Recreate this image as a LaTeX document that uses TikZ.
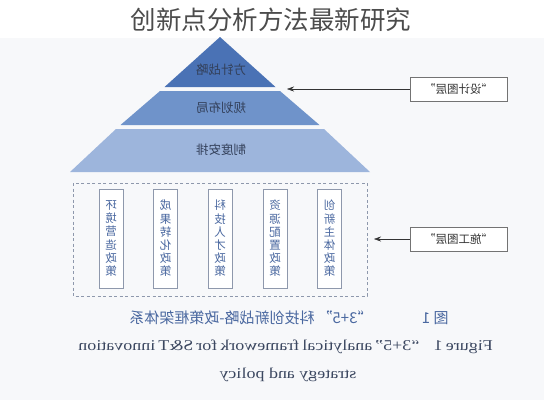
\documentclass[tikz,border=0pt]{standalone}
\usepackage{fontspec}
\usepackage{graphicx}
\setmainfont{Liberation Serif}
\newfontfamily\cjk{Noto Sans CJK SC}
\usetikzlibrary{arrows.meta,positioning}
\definecolor{Paper}{HTML}{F7F8FA}
\definecolor{TierA}{HTML}{4A72B5}
\definecolor{TierB}{HTML}{6F93CA}
\definecolor{TierC}{HTML}{9DB5DC}
\definecolor{TierInk}{HTML}{33405A}
\definecolor{Ink}{HTML}{4A68A0}
\definecolor{Frame}{HTML}{8E98AC}
\definecolor{Cap}{HTML}{3B4760}

\begin{document}
\begin{tikzpicture}[x=1pt,y=-1pt,
        mir/.style={xscale=-1},
        tier/.style={mir,font=\cjk\fontsize{12.5}{14}\selectfont,text=TierInk},
        policy/.style={mir,draw=Frame,fill=white,minimum width=24pt,minimum height=99pt,
          inner sep=0pt,align=center,text=Ink,font=\cjk\fontsize{11.5}{13.2}\selectfont},
        layer/.style={mir,draw=black!55,fill=white,minimum width=97pt,minimum height=24pt,
          inner sep=0pt,font=\cjk\fontsize{11.5}{13}\selectfont,text=black!80},
        capline/.style={xscale=-1.2,text=Cap,font=\fontsize{15}{17}\selectfont},
        pointer/.style={black!80,-{Stealth[length=7pt,width=5pt]}}]
        \useasboundingbox (0,0) rectangle (544,400);
        \fill[Paper] (0,38) rectangle (544,400);
        \node[font=\cjk\fontsize{25.5}{28}\selectfont,text=black!70] (title) at (271,20) {创新点分析方法最新研究};
        % pyramid
        \fill[TierA] (220,37) -- (275.5,87) -- (164.5,87) -- cycle;
        \fill[TierB] (160,91) -- (280,91) -- (319.5,125) -- (120.5,125) -- cycle;
        \fill[TierC] (116,129) -- (324,129) -- (370,172) -- (70,172) -- cycle;
        \node[tier] (strategy) at (221,70) {方针战略};
        \node[tier] (plan) at (221,108) {规划布局};
        \node[tier] (system) at (221,150) {制度安排};
        % policy layer
        \draw[Frame,dashed,dash pattern=on 3pt off 2.5pt] (73,183) rectangle (367,296);
        \node[policy] (env) at (111,238.5) {环\\境\\营\\造\\政\\策};
        \node[policy] (result) at (165.5,238.5) {成\\果\\转\\化\\政\\策};
        \node[policy] (talent) at (220,238.5) {科\\技\\人\\才\\政\\策};
        \node[policy] (resource) at (275,238.5) {资\\源\\配\\置\\政\\策};
        \node[policy] (actor) at (329.5,238.5) {创\\新\\主\\体\\政\\策};
        % layer labels
        \node[layer] (design) at (458.5,89) {“设计图层”};
        \node[layer] (build) at (458.5,239) {“施工图层”};
        \coordinate (designtip) at (287,89);
        \coordinate (buildtip) at (374,239);
        \draw[pointer] (design) -- (designtip);
        \draw[pointer] (build) -- (buildtip);
        % caption
        \node[mir,text=Ink,font=\cjk\fontsize{15}{17}\selectfont] (capcn) at (289,318)
          {图 1\hspace{3.3em}“3+5”\hspace{0.2em}科技创新战略-政策框架体系};
        \node[capline] (capen) at (290,347)
          {\makebox[338pt][s]{Figure 1\hspace{0.8em}“3+5” analytical framework for S\&T innovation}};
        \node[capline] (capen2) at (288,375) {strategy and policy};
\end{tikzpicture}
\end{document}
